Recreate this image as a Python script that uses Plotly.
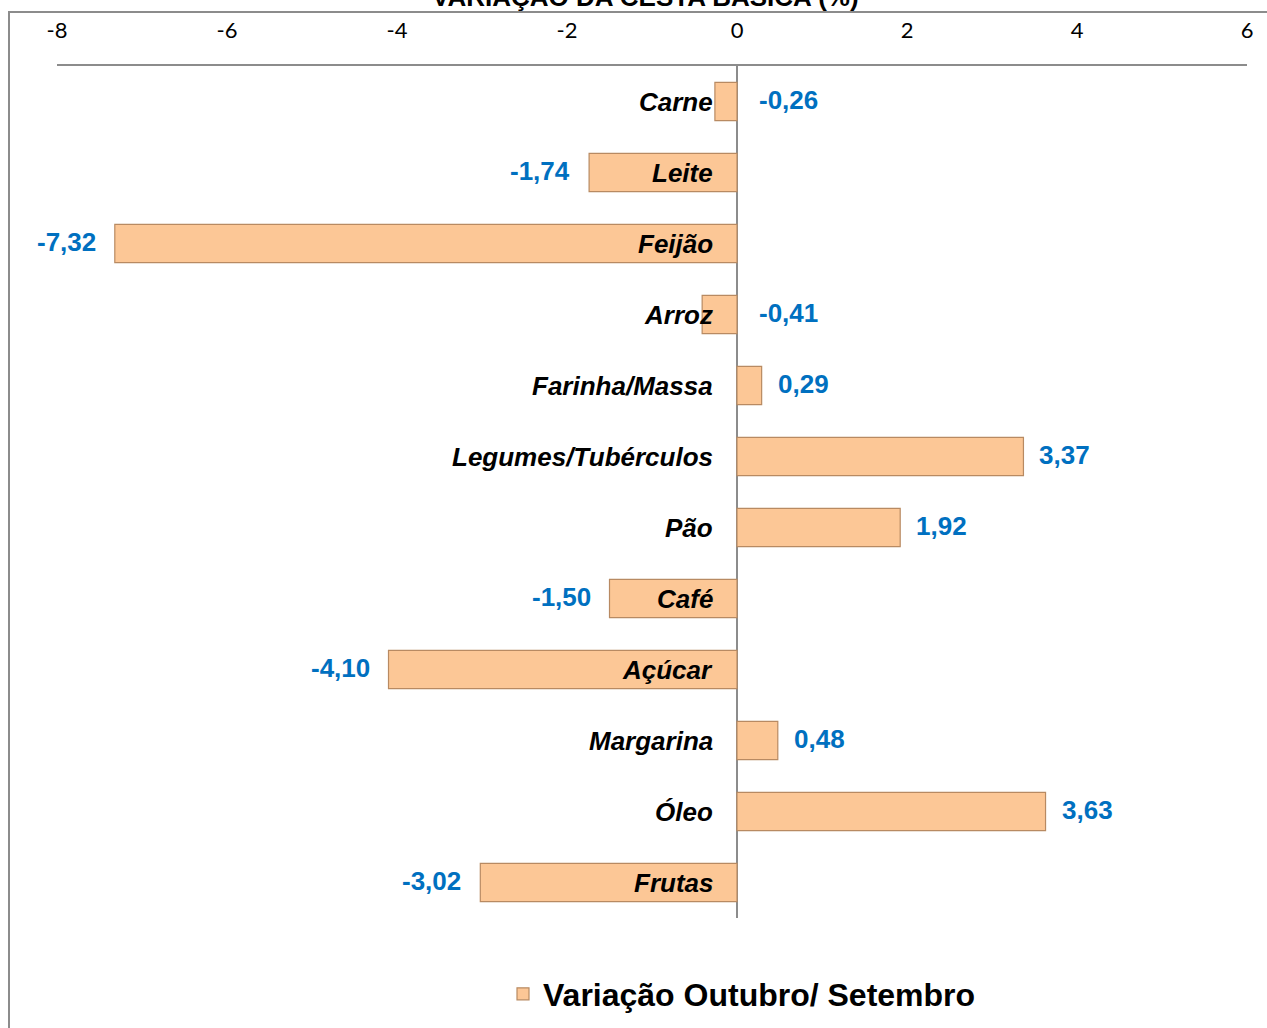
import plotly.graph_objects as go

categories = ["Carne", "Leite", "Feijão", "Arroz", "Farinha/Massa", "Legumes/Tubérculos",
              "Pão", "Café", "Açúcar", "Margarina", "Óleo", "Frutas"]
values = [-0.26, -1.74, -7.32, -0.41, 0.29, 3.37, 1.92, -1.50, -4.10, 0.48, 3.63, -3.02]
value_labels = ["-0,26", "-1,74", "-7,32", "-0,41", "0,29", "3,37", "1,92", "-1,50",
                "-4,10", "0,48", "3,63", "-3,02"]
series_name = "Variação Outubro/ Setembro"
title_text = "VARIAÇÃO DA CESTA BÁSICA (%)"
x_ticks = [-8, -6, -4, -2, 0, 2, 4, 6]

W, H = 1267, 1028
L, R, T, B = 57, 20, 66, 110
pw, ph = W - L - R, H - T - B

fig = go.Figure()
fig.add_trace(go.Bar(
    y=categories, x=values, orientation="h", name=f"<b>{series_name}</b>",
    marker=dict(color="#FCC796", line=dict(color="#B88A62", width=1.2)),
    showlegend=True, hoverinfo="x+y",
))

annotations = []
for c, v, t in zip(categories, values, value_labels):
    annotations.append(dict(x=0, y=c, xref="x", yref="y", text=f"<b><i>{c}</i></b>",
                            showarrow=False, xanchor="right", xshift=-22,
                            font=dict(family="Liberation Sans, Arial", size=26, color="black")))
    if v < 0 and abs(v) < 1:
        ax, anchor, shift = 0, "left", 20
    elif v < 0:
        ax, anchor, shift = v, "right", -17
    else:
        ax, anchor, shift = v, "left", 14
    annotations.append(dict(x=ax, y=c, xref="x", yref="y", text=f"<b>{t}</b>",
                            showarrow=False, xanchor=anchor, xshift=shift, yshift=2,
                            font=dict(family="Liberation Sans, Arial", size=26, color="#0070C0")))

annotations.append(dict(x=(645 - L) / pw, y=1 + (T + 3) / ph, xref="paper", yref="paper",
                        text=f"<b>{title_text}</b>", showarrow=False,
                        xanchor="center", yanchor="middle",
                        font=dict(family="Liberation Sans, Arial", size=26, color="black")))

fig.update_layout(
    width=W, height=H,
    margin=dict(l=L, r=R, t=T, b=B),
    paper_bgcolor="white", plot_bgcolor="white",
    bargap=0.46,
    xaxis=dict(range=[-8, 6], side="top", tickvals=x_ticks, ticktext=[str(v) for v in x_ticks],
               showgrid=False, showline=True, linecolor="#8C8C8C", linewidth=1.5,
               zeroline=True, zerolinecolor="#8C8C8C", zerolinewidth=1.5,
               ticks="outside", ticklen=17, tickcolor="rgba(0,0,0,0)",
               tickfont=dict(family="Lato, Open Sans", size=22, color="black"), fixedrange=True),
    yaxis=dict(range=[11.5, -0.5], showticklabels=False, showgrid=False, showline=False,
               zeroline=False, ticks="", fixedrange=True),
    legend=dict(orientation="h", x=742 / W, xref="container", xanchor="center",
                y=(H - 994) / H, yref="container", yanchor="middle",
                font=dict(family="Liberation Sans, Arial", size=32, color="black"),
                traceorder="normal"),
    annotations=annotations,
    shapes=[dict(type="rect", xref="paper", yref="paper",
                 x0=(9 - L) / pw, x1=(W + 5 - L) / pw,
                 y0=-(B + 5) / ph, y1=1 + (T - 12) / ph,
                 line=dict(color="#8C8C8C", width=2), layer="below")],
)

fig.write_html("out.html", config={"displayModeBar": False},
               post_script="document.body.style.margin='0';")
